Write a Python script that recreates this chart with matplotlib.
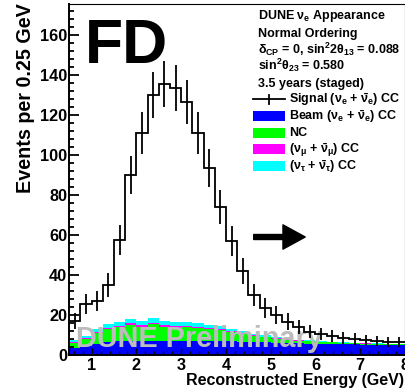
import numpy as np
import matplotlib
matplotlib.use("Agg")
import matplotlib.pyplot as plt
from matplotlib.patches import Rectangle
from matplotlib.lines import Line2D
from matplotlib.ticker import MultipleLocator

# Reconstructed energy binning: 0.25 GeV bins from 0.5 to 8 GeV
bin_edges = np.arange(0.5, 8.0001, 0.25)

# Background components (events per bin), stacked bottom to top
beam_nue = [3.5, 4.5, 5.5, 6.5, 7.0, 7.0, 7.0, 7.2, 7.2, 7.2, 7.0, 7.0, 7.0, 7.0, 6.8,
            6.6, 6.5, 6.4, 6.2, 6.0, 5.8, 5.7, 5.6, 5.5, 5.4, 5.3, 5.2, 5.1, 5.0, 5.0]
nc = [2.5, 3.5, 5.5, 6.5, 7.0, 8.0, 7.0, 8.2, 7.0, 6.5, 7.0, 6.5, 6.0, 5.5, 4.5,
      3.8, 3.0, 2.5, 2.0, 1.6, 1.3, 1.1, 0.9, 0.8, 0.7, 0.6, 0.5, 0.5, 0.4, 0.4]
numu_cc = [0.5, 0.5, 0.6, 0.7, 0.7, 0.8, 0.8, 0.8, 0.7, 0.7, 0.7, 0.6, 0.6, 0.5, 0.5,
           0.4, 0.4, 0.3, 0.3, 0.3, 0.2, 0.2, 0.2, 0.1, 0.1, 0.1, 0.1, 0.1, 0.1, 0.1]
nutau_cc = [1.0, 1.2, 1.5, 1.8, 2.0, 2.0, 2.0, 2.2, 2.0, 2.0, 2.0, 1.8, 1.6, 1.4, 1.2,
            1.0, 0.8, 0.7, 0.5, 0.4, 0.3, 0.3, 0.2, 0.2, 0.2, 0.1, 0.1, 0.1, 0.1, 0.1]

# Signal (nu_e + nu_e-bar CC), stacked on top of the backgrounds
signal = [9.5, 15.8, 13.9, 19.5, 40.8, 72.2, 94.2, 111.6, 118.6, 117.1, 109.8, 95.1,
          78.3, 59.6, 44.0, 30.2, 19.3, 13.6, 11.0, 8.4, 6.4, 4.4, 3.6, 2.9, 2.1,
          1.9, 1.6, 1.2, 0.9, 0.9]

x_ticks = [1, 2, 3, 4, 5, 6, 7, 8]
y_ticks = [0, 20, 40, 60, 80, 100, 120, 140, 160]

header_lines = [
    r"DUNE $\nu_{e}$ Appearance",
    "Normal Ordering",
    r"$\delta_{\mathrm{CP}}$ = 0, sin$^{2}$2$\theta_{13}$ = 0.088",
    r"sin$^{2}$$\theta_{23}$ = 0.580",
    "3.5 years (staged)",
]
legend_labels = [
    r"Signal ($\nu_{e}$ + $\bar{\nu}_{e}$) CC",
    r"Beam ($\nu_{e}$ + $\bar{\nu}_{e}$) CC",
    "NC",
    r"($\nu_{\mu}$ + $\bar{\nu}_{\mu}$) CC",
    r"($\nu_{\tau}$ + $\bar{\nu}_{\tau}$) CC",
]
bkg_colors = ["#0000ff", "#00ff00", "#ff00ff", "#00ffff"]

plt.rcParams["font.family"] = ["Liberation Sans", "DejaVu Sans"]
plt.rcParams["font.weight"] = "bold"
plt.rcParams["mathtext.fontset"] = "custom"
plt.rcParams["mathtext.rm"] = "Liberation Sans:bold"
plt.rcParams["mathtext.bf"] = "Liberation Sans:bold"
plt.rcParams["mathtext.it"] = "Liberation Sans"

W, H = 406, 392
fig = plt.figure(figsize=(W / 100, H / 100), dpi=100)
fig.patch.set_facecolor("white")


def fx(px):
    return px / W


def fy(py):
    return 1 - py / H


ax_l, ax_r, ax_t, ax_b = 69.3, 405.0, 4.0, 355.0
ax = fig.add_axes([fx(ax_l), fy(ax_b), (ax_r - ax_l) / W, (ax_b - ax_t) / H])

# Stacked backgrounds
base = np.zeros(len(bin_edges) - 1)
for vals, col in zip([beam_nue, nc, numu_cc, nutau_cc], bkg_colors):
    top = base + np.asarray(vals, dtype=float)
    ax.stairs(top, bin_edges, baseline=base, fill=True, color=col, lw=0, zorder=1)
    base = top

# Signal on top of the stack, with statistical errors
total = base + np.asarray(signal, dtype=float)
centers = 0.5 * (bin_edges[:-1] + bin_edges[1:])
err = np.sqrt(total)
ax.stairs(total, bin_edges, baseline=None, color="black", lw=1.3, zorder=4)
ax.vlines(centers, total - err, total + err, color="black", lw=1.3, zorder=4)

ax.set_xlim(0.5, 8.0)
ax.set_ylim(0, 175.5)
ax.set_xticks(x_ticks)
ax.set_yticks(y_ticks)
ax.xaxis.set_minor_locator(MultipleLocator(0.2))
ax.yaxis.set_minor_locator(MultipleLocator(4))
ax.tick_params(axis="both", which="both", direction="in", top=False, right=False)
ax.tick_params(axis="y", which="major", length=7.2, width=1.3, labelsize=11.7, pad=1.5)
ax.tick_params(axis="y", which="minor", length=3.6, width=1.3)
ax.tick_params(axis="x", which="major", length=5.0, width=1.0, labelsize=11.7, pad=2.0)
ax.tick_params(axis="x", which="minor", length=2.6, width=1.0)
for lab in ax.get_xticklabels() + ax.get_yticklabels():
    lab.set_fontweight("bold")
for side in ["left", "bottom"]:
    ax.spines[side].set_linewidth(1.4)
for side in ["top", "right"]:
    ax.spines[side].set_linewidth(0.8)

# Axis titles
fig.text(fx(26), fy(3), "Events per 0.25 GeV", rotation=90, ha="center", va="top",
         fontsize=14.2, fontweight="bold")
fig.text(fx(404), fy(381), "Reconstructed Energy (GeV)", ha="right", va="center",
         fontsize=11.5, fontweight="bold")

# Detector tag
fig.text(fx(85), fy(63), "FD", ha="left", va="baseline", fontsize=45, fontweight="bold")

# Watermark behind the signal line
ax.text(fx(76), fy(346.7), "DUNE Preliminary", transform=fig.transFigure,
        ha="left", va="baseline", fontsize=20.8, fontweight="bold",
        color="#bcbcbc", zorder=3)

# Arrow pointing towards higher energies
ax.annotate("", xy=(5.77, 59), xytext=(4.62, 59), xycoords="data",
            arrowprops=dict(arrowstyle="simple,head_length=1.6,head_width=1.75,tail_width=0.36",
                            mutation_scale=10, fc="black", ec="black",
                            shrinkA=0, shrinkB=0), zorder=5)

# Legend header
header_baselines = [19, 37, 54, 70, 87]
for txt, yb in zip(header_lines, header_baselines):
    fig.text(fx(258), fy(yb), txt, ha="left", va="baseline", fontsize=9, fontweight="bold")

# Legend entries
entry_baselines = [103, 120, 136.5, 153, 169.5]
for txt, yb in zip(legend_labels, entry_baselines):
    fig.text(fx(289), fy(yb), txt, ha="left", va="baseline", fontsize=9, fontweight="bold")

yc = entry_baselines[0] - 3.7
fig.add_artist(Line2D([fx(253), fx(285)], [fy(yc), fy(yc)], color="black", lw=1.3,
                      transform=fig.transFigure))
fig.add_artist(Line2D([fx(269), fx(269)], [fy(yc - 4.5), fy(yc + 4.5)], color="black",
                      lw=1.3, transform=fig.transFigure))
for yb, col in zip(entry_baselines[1:], bkg_colors):
    yc = yb - 3.7
    fig.add_artist(Rectangle((fx(253), fy(yc + 5)), 32 / W, 10 / H, facecolor=col,
                             edgecolor="none", transform=fig.transFigure))

fig.savefig("out.png", dpi=100)
